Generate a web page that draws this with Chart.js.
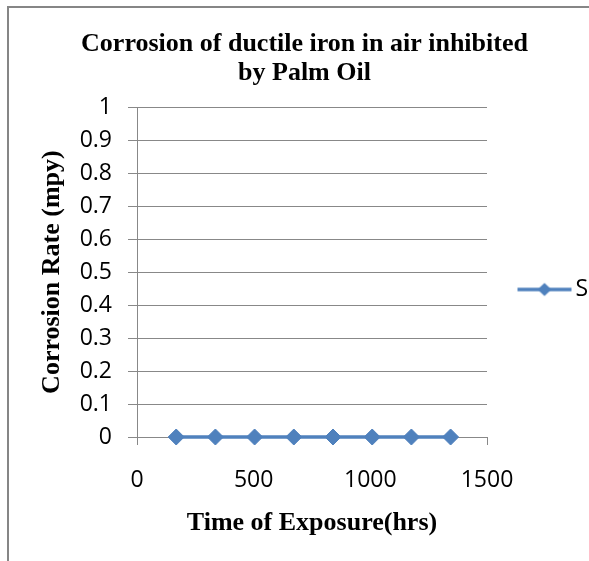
<!DOCTYPE html>
<html><head><meta charset="utf-8">
<script src="https://cdn.jsdelivr.net/npm/chart.js@4.4.1/dist/chart.umd.min.js"></script>
<style>html,body{margin:0;padding:0;background:#fff;overflow:hidden}#wrap{width:589px;height:561px;position:relative}</style>
</head><body><div id="wrap"><canvas id="c" width="589" height="561"></canvas></div>
<script>
const chartTitle = ['Corrosion of ductile iron in air inhibited', 'by Palm Oil'];
const xAxisTitle = 'Time of Exposure(hrs)';
const yAxisTitle = 'Corrosion Rate (mpy)';
const seriesName = 'S';
const exposureHours = [168, 336, 504, 672, 840, 1008, 1176, 1344];
const corrosionRate = [0, 0, 0, 0, 0, 0, 0, 0];
const xTickLabels = ['0', '500', '1000', '1500'];
const yTickLabels = ['0', '0.1', '0.2', '0.3', '0.4', '0.5', '0.6', '0.7', '0.8', '0.9', '1'];

const BLUE = '#4F81BD';
const GRID = '#888888';
const tickFont = {family: "'Open Sans', sans-serif", size: 23};
const titleFont = {family: "'Liberation Serif', 'Times New Roman', serif", size: 26, weight: 'bold'};

// legend marker: line with a diamond (Excel style); drawn off-centre in a wider canvas
const icon = document.createElement('canvas');
icon.width = 100; icon.height = 16;
(function () {
  const g = icon.getContext('2d');
  g.strokeStyle = BLUE; g.lineWidth = 3.5;
  g.beginPath(); g.moveTo(37, 8); g.lineTo(91, 8); g.stroke();
  g.fillStyle = BLUE;
  g.beginPath(); g.moveTo(57, 8); g.lineTo(64, 1.5); g.lineTo(71, 8); g.lineTo(64, 14.5); g.closePath(); g.fill();
})();

const frame = {
  id: 'frame',
  beforeDraw(chart) {
    const ctx = chart.ctx;
    ctx.save();
    ctx.fillStyle = '#fff';
    ctx.fillRect(0, 0, chart.width, chart.height);
    ctx.strokeStyle = '#868686';
    ctx.lineWidth = 2;
    ctx.beginPath();
    ctx.moveTo(8, chart.height); ctx.lineTo(8, 7); ctx.lineTo(chart.width, 7);
    ctx.stroke();
    ctx.restore();
  }
};

new Chart(document.getElementById('c'), {
  type: 'line',
  data: {
    datasets: [{
      label: seriesName,
      data: exposureHours.map((x, i) => ({x: x, y: corrosionRate[i]})),
      borderColor: BLUE,
      backgroundColor: BLUE,
      borderWidth: 3.5,
      pointStyle: 'rectRot',
      pointRadius: 8,
      pointHoverRadius: 8,
      pointBackgroundColor: BLUE,
      pointBorderColor: BLUE,
      pointBorderWidth: 1,
      tension: 0,
      clip: false
    }]
  },
  options: {
    responsive: false,
    devicePixelRatio: 1,
    animation: false,
    events: [],
    layout: {padding: {top: 18, left: 20, right: 0, bottom: 0}},
    plugins: {
      title: {
        display: true,
        text: chartTitle,
        color: '#000',
        font: Object.assign({}, titleFont, {lineHeight: 1.1}),
        padding: {top: 12, bottom: 20}
      },
      legend: {
        display: true,
        position: 'right',
        fullSize: true,
        maxWidth: 102,
        labels: {
          usePointStyle: true,
          pointStyleWidth: 67,
          boxHeight: 16,
          color: '#000',
          font: tickFont,
          padding: 10,
          generateLabels(chart) {
            return Chart.defaults.plugins.legend.labels.generateLabels(chart).map(l => Object.assign(l, {pointStyle: icon}));
          }
        }
      },
      tooltip: {enabled: false}
    },
    scales: {
      x: {
        type: 'linear',
        min: 0,
        max: 1500,
        ticks: {
          stepSize: 500,
          autoSkip: false,
          maxRotation: 0,
          color: '#000',
          font: tickFont,
          padding: 22,
          callback: (v, i) => xTickLabels[i]
        },
        grid: {
          drawOnChartArea: false,
          tickLength: 8,
          color: ctx => (ctx.index === 0 || ctx.index === xTickLabels.length - 1) ? GRID : 'rgba(0,0,0,0)'
        },
        border: {color: GRID, width: 1},
        title: {display: true, text: xAxisTitle, color: '#000', font: titleFont, padding: {top: 4, bottom: 22}},
        afterFit(s) { s.height = 124; }
      },
      y: {
        type: 'linear',
        min: 0,
        max: 1,
        ticks: {
          stepSize: 0.1,
          autoSkip: false,
          color: '#000',
          font: tickFont,
          padding: 16,
          callback: (v, i) => yTickLabels[i]
        },
        grid: {color: GRID, tickLength: 9},
        border: {color: GRID, width: 1},
        title: {display: true, text: yAxisTitle, color: '#000', font: titleFont, padding: {top: 17, bottom: 0}},
        afterFit(s) { s.width = 117; }
      }
    }
  },
  plugins: [frame]
});
</script>
</body></html>
